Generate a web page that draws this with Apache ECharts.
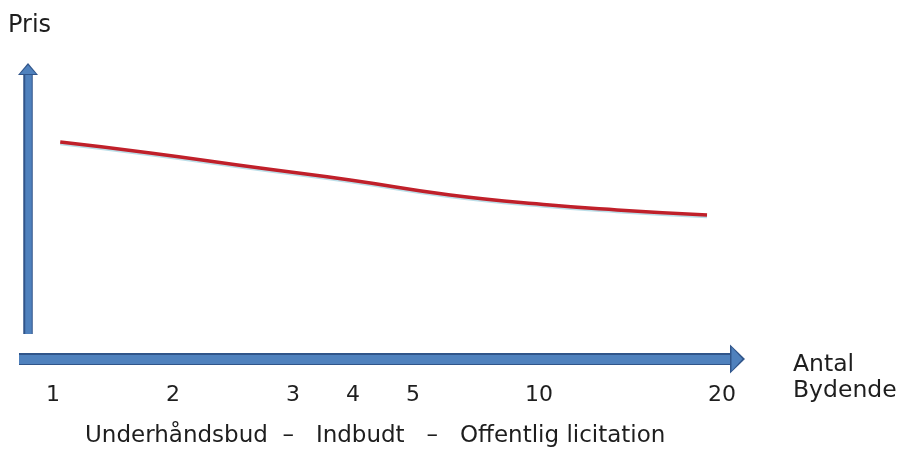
<!DOCTYPE html>
<html>
<head>
<meta charset="utf-8">
<script src="https://cdn.jsdelivr.net/npm/echarts@6/dist/echarts.min.js"></script>
<style>
html,body{margin:0;padding:0;background:#fff;}
#chart{width:900px;height:450px;}
</style>
</head>
<body>
<div id="chart"></div>
<script>
// Schematic x positions of the tick labels and their texts
var tickPos = [0, 2, 4, 5, 6, 8.1, 11.15];
var tickLabels = ['1', '2', '3', '4', '5', '10', '20'];
// Price curve (schematic position, price index)
var curveX = [0.12, 1.62, 3.45, 4.95, 6.62, 8.28, 9.4, 10.9];
var curveY = [74.1, 69.9, 64.1, 59.5, 53.7, 49.8, 47.9, 45.9];
var yTitle = 'Pris';
var xTitle = 'Antal\nBydende';
var bottomText = 'Underhåndsbud  –   Indbudt   –   Offentlig licitation';

var FONT = 'DejaVu Sans';
var FILL = '#4f81bd';
var EDGE = '#30558a';
var TXT = '#1e1e1e';

var chart = echarts.init(document.getElementById('chart'), null, {renderer: 'canvas'});
var seriesData = curveX.map(function (x, i) { return [x, curveY[i]]; });

chart.setOption({
  animation: false,
  backgroundColor: '#ffffff',
  title: [
    {text: yTitle, left: 8, top: 14, padding: 0,
     textStyle: {fontFamily: FONT, fontSize: 24, fontWeight: 'normal', color: TXT}},
    {text: xTitle, left: 793, top: 352, padding: 0,
     textStyle: {fontFamily: FONT, fontSize: 23.5, fontWeight: 'normal', color: TXT, lineHeight: 26}},
    {text: bottomText, left: 85, top: 425, padding: 0,
     textStyle: {fontFamily: FONT, fontSize: 23, fontWeight: 'normal', color: TXT}}
  ],
  grid: {left: 19, right: 170, top: 75, bottom: 116, containLabel: false},
  xAxis: [
    {type: 'value', min: -0.567, max: 11.283, position: 'bottom', offset: 25, z: 3,
     axisLine: {show: true, onZero: false, symbol: ['none', 'triangle'], symbolSize: [24, 11], symbolOffset: [0, 7],
                lineStyle: {color: FILL, width: 9, cap: 'butt'}},
     axisTick: {show: false}, splitLine: {show: false},
     axisLabel: {show: true, customValues: tickPos, margin: 25,
                 fontFamily: FONT, fontSize: 22, color: TXT,
                 formatter: function (v) {
                   for (var i = 0; i < tickPos.length; i++) { if (Math.abs(tickPos[i] - v) < 1e-6) return tickLabels[i]; }
                   return '';
                 }}},
    {type: 'value', min: -0.567, max: 11.283, position: 'bottom', offset: 25, z: 2,
     axisLine: {show: true, onZero: false, symbol: ['none', 'triangle'], symbolSize: [29, 15], symbolOffset: [0, 7.5],
                lineStyle: {color: EDGE, width: 12, cap: 'butt'}},
     axisTick: {show: false}, splitLine: {show: false}, axisLabel: {show: false}}
  ],
  yAxis: [
    {type: 'value', min: 0, max: 100, position: 'left', offset: -9, z: 3,
     axisLine: {show: true, onZero: false, symbol: ['none', 'triangle'], symbolSize: [16, 9], symbolOffset: [0, 5.5],
                lineStyle: {color: FILL, width: 6.5, cap: 'butt'}},
     axisTick: {show: false}, splitLine: {show: false}, axisLabel: {show: false}},
    {type: 'value', min: 0, max: 100, position: 'left', offset: -9, z: 2,
     axisLine: {show: true, onZero: false, symbol: ['none', 'triangle'], symbolSize: [20, 12], symbolOffset: [0, 6],
                lineStyle: {color: EDGE, width: 9.5, cap: 'butt'}},
     axisTick: {show: false}, splitLine: {show: false}, axisLabel: {show: false}}
  ],
  series: [{
    type: 'line', xAxisIndex: 0, yAxisIndex: 0, data: seriesData, smooth: true,
    showSymbol: false, symbol: 'none',
    lineStyle: {color: '#c0202a', width: 3.5, shadowColor: 'rgba(120,190,210,0.5)', shadowBlur: 0, shadowOffsetY: 1.5}
  }]
});
</script>
</body>
</html>
